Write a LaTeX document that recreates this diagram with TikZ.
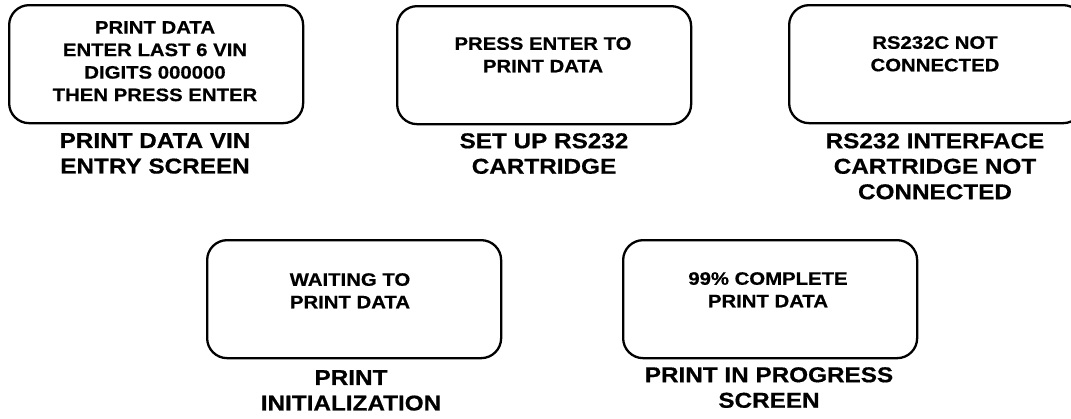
\documentclass[tikz,border=0pt]{standalone}
\usepackage{fontspec}
\newfontfamily\bx{Liberation Sans}[FakeStretch=1.13,FakeBold=0.6]
\begin{document}
\begin{tikzpicture}[x=1pt,y=-1pt,
  screen/.style={draw=black,line width=2.3pt,rounded corners=20pt,
    minimum width=294pt,minimum height=118pt,inner sep=0pt,anchor=north west},
  scrtext/.style={anchor=north,inner sep=0pt,align=center,
    font=\bx\bfseries\fontsize{18}{22.5}\selectfont},
  caption/.style={anchor=north,inner sep=0pt,align=center,
    font=\bx\bfseries\fontsize{21.5}{25.5}\selectfont}]
\useasboundingbox (0,0) rectangle (1071,418);
\clip (0,0) rectangle (1071,418);
% screens
\node[screen] (b1) at (8,4) {};
\node[screen] (b2) at (396,5) {};
\node[screen] (b3) at (788,4) {};
\node[screen] (b4) at (206,239) {};
\node[screen] (b5) at (622,239) {};
% screen texts
\node[scrtext] (t1) at (155,21) {PRINT DATA\\ENTER LAST 6 VIN\\DIGITS 000000\\THEN PRESS ENTER};
\node[scrtext] (t2) at (543,37) {PRESS ENTER TO\\PRINT DATA};
\node[scrtext] (t3) at (935,36) {RS232C NOT\\CONNECTED};
\node[scrtext] (t4) at (350,273) {WAITING TO\\PRINT DATA};
\node[scrtext] (t5) at (768,272) {99\% COMPLETE\\PRINT DATA};
% captions
\node[caption] (c1) at (155,133) {PRINT DATA VIN\\ENTRY SCREEN};
\node[caption] (c2) at (544,133) {SET UP RS232\\CARTRIDGE};
\node[caption] (c3) at (935,133) {RS232 INTERFACE\\CARTRIDGE NOT\\CONNECTED};
\node[caption] (c4) at (351,370) {PRINT\\INITIALIZATION};
\node[caption] (c5) at (769,367) {PRINT IN PROGRESS\\SCREEN};
\end{tikzpicture}
\end{document}
